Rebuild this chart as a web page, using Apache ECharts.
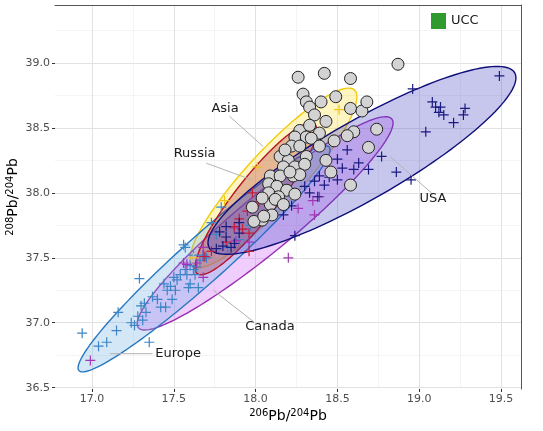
<!DOCTYPE html>
<html><head><meta charset="utf-8">
<script src="https://cdn.jsdelivr.net/npm/echarts@6/dist/echarts.min.js"></script>
<style>html,body{margin:0;padding:0;background:#fff}#c{width:543px;height:431px}</style>
</head><body><div id="c"></div>
<script>
const xTicks = [17.0, 17.5, 18.0, 18.5, 19.0, 19.5];
const yTicks = [36.5, 37.0, 37.5, 38.0, 38.5, 39.0];

const europePts = [[16.94,36.92],[17.04,36.82],[17.09,36.85],[17.15,36.94],[17.16,37.08],[17.24,37.00],[17.26,36.98],[17.35,36.85],[17.29,37.34],[17.31,37.02],[17.33,37.08],[17.32,37.15],[17.37,37.20],[17.40,37.18],[17.42,37.12],[17.45,37.12],[17.49,37.18],[17.48,37.28],[17.52,37.33],[17.51,37.25],[17.54,37.37],[17.58,37.37],[17.59,37.27],[17.65,37.27],[17.63,37.37],[17.57,37.58],[17.57,37.41],[17.62,37.41],[17.64,37.43],[17.66,37.48],[17.68,37.52],[17.70,37.50],[17.28,37.05],[17.30,37.13],[17.44,37.30],[17.46,37.25],[17.50,37.35],[17.60,37.44],[17.79,37.89],[17.73,37.77],[17.56,37.60],[17.90,37.64],[17.83,37.58],[17.76,37.68],[17.97,37.75],[17.62,37.52],[17.60,37.30]];
const canadaPts = [[16.99,36.71],[17.56,37.46],[17.68,37.51],[18.20,37.50],[17.87,37.73],[17.96,37.62],[18.26,37.88],[18.35,37.94],[18.39,37.97],[17.97,37.88],[17.92,37.72],[18.36,37.83],[17.88,37.63],[17.64,37.46],[17.68,37.58],[17.68,37.35],[17.58,37.45]];
const russiaPts = [[17.95,37.86],[17.92,37.72],[17.73,37.55],[17.69,37.51],[17.98,38.00],[17.96,37.69],[17.87,37.74],[17.90,37.80],[18.02,37.93],[17.82,37.62],[17.96,37.55]];
const asiaPts = [[18.51,38.64],[18.01,38.20],[17.81,37.94],[17.62,37.50]];
const usaPts = [[19.49,38.90],[18.96,38.80],[19.08,38.70],[19.10,38.66],[19.13,38.66],[19.12,38.62],[19.15,38.60],[19.28,38.65],[19.27,38.60],[19.21,38.54],[19.04,38.47],[18.86,38.16],[18.95,38.10],[18.56,38.33],[18.77,38.28],[18.50,38.26],[18.63,38.23],[18.53,38.19],[18.60,38.18],[18.69,38.18],[18.39,38.13],[18.45,38.12],[18.50,38.10],[18.42,38.06],[18.38,37.97],[18.33,38.00],[18.24,37.67],[18.17,37.83],[18.22,37.90],[17.82,37.74],[17.90,37.77],[17.80,37.59],[17.85,37.58],[17.90,37.69],[17.82,37.66],[17.76,37.57],[17.87,37.61],[17.78,37.70],[18.05,37.80],[18.10,37.86],[18.30,38.05],[18.36,38.09]];
const samplePts = [[18.26,38.89],[18.42,38.92],[18.58,38.88],[18.87,38.99],[18.29,38.76],[18.31,38.70],[18.33,38.66],[18.40,38.70],[18.49,38.74],[18.36,38.60],[18.58,38.65],[18.65,38.63],[18.68,38.70],[18.43,38.55],[18.74,38.49],[18.60,38.47],[18.56,38.44],[18.48,38.40],[18.69,38.35],[18.39,38.46],[18.27,38.48],[18.24,38.43],[18.31,38.43],[18.22,38.36],[18.27,38.36],[18.34,38.42],[18.39,38.36],[18.43,38.25],[18.46,38.16],[18.58,38.06],[18.15,38.28],[18.20,38.25],[18.31,38.28],[18.17,38.20],[18.24,38.20],[18.30,38.22],[18.09,38.13],[18.15,38.13],[18.23,38.13],[18.27,38.14],[18.08,38.07],[18.13,38.05],[18.19,38.02],[18.24,37.99],[18.08,38.00],[18.14,37.97],[18.09,37.91],[17.98,37.89],[18.04,37.79],[18.10,37.83],[17.99,37.78],[18.05,37.82],[18.18,38.33],[18.33,38.52],[18.21,38.16],[18.12,37.95],[18.04,37.96],[18.17,37.91]];

// ellipses (order: Asia, Canada, Europe, Russia, USA): centre, two conjugate half-axes in data units
const ellipseNames = ['Asia','Canada','Europe','Russia','USA'];
const ellipseCenter = [[18.109,38.115],[18.058,37.765],[17.685,37.492],[18.002,37.954],[18.650,38.250]];
const ellipseAxisA = [[0.510,0.623],[0.782,0.773],[0.770,0.839],[0.358,0.576],[0.941,0.635]];
const ellipseAxisB = [[0,-0.300],[0,-0.277],[0,-0.231],[0.101,-0.099],[0,-0.346]];

const labelNames = ['Asia','Canada','Europe','Russia','USA'];
const labelPos = [[17.813,38.646],[18.088,36.969],[17.526,36.765],[17.627,38.300],[19.084,37.954]];
const leaderStart = [[17.84,38.59],[17.988,37.008],[17.37,36.762],[17.70,38.228],[19.076,37.998]];
const leaderEnd = [[18.047,38.356],[17.742,37.249],[17.11,36.762],[17.976,38.100],[18.822,38.279]];

const strokeCol = {Asia:'#f2cc0c', Canada:'#9a2fb0', Europe:'#2878c0', Russia:'#b5142c', USA:'#0f0f78'};
const fillCol = {Asia:'rgba(255,228,90,0.38)', Canada:'rgba(205,100,245,0.32)', Europe:'rgba(110,175,230,0.3)', Russia:'rgba(170,40,50,0.3)', USA:'rgba(70,70,200,0.3)'};
const crossCol = {Europe:'#3d85c6', Canada:'#a236b5', Russia:'#c41e3a', Asia:'#f1c40f', USA:'#1a1a80'};

const FONT = 'DejaVu Sans';
const crossPath = 'path://M4.4,0 h1.2 v4.4 h4.4 v1.2 h-4.4 v4.4 h-1.2 v-4.4 h-4.4 v-1.2 h4.4 z';

function fmt(v){ return Math.abs(v*2 - Math.round(v*2)) < 1e-6 ? v.toFixed(1) : ''; }

function crossSeries(name, pts){
  return {type:'scatter', name:name+'_pts', data:pts, symbol:crossPath, symbolSize:10,
    itemStyle:{color:crossCol[name], opacity:1}, z:3, silent:true};
}

const chart = echarts.init(document.getElementById('c'), null, {renderer:'canvas'});
const axisCommon = {
  type:'value',
  minInterval:0.5, maxInterval:0.5,
  axisLine:{show:false},
  splitLine:{show:true, lineStyle:{color:'#e2e2e2', width:1}},
  minorTick:{show:false, splitNumber:2},
  minorSplitLine:{show:true, lineStyle:{color:'#efefef', width:0.7}}
};
const nameStyle = {fontSize:14, fontFamily:FONT, color:'#000', rich:{s:{fontSize:10, fontFamily:FONT, color:'#000', verticalAlign:'top', padding:[0,0,7,0]}}};
const option = {
  backgroundColor:'#fff',
  animation:false,
  grid:{left:55, right:22, top:5, bottom:42, show:false, containLabel:false, outerBoundsMode:'none'},
  legend:{data:[{name:'UCC', icon:'rect', itemStyle:{color:'#2f9b2f', opacity:1}}], left:426, top:8, itemWidth:15, itemHeight:16, itemGap:4,
    textStyle:{fontSize:13, fontFamily:FONT, color:'#1a1a1a'}},
  xAxis:[Object.assign({}, axisCommon, {
      min:16.774, max:19.622, position:'bottom',
      axisTick:{show:true, length:3, customValues:xTicks, lineStyle:{color:'#333'}},
      axisLabel:{color:'#4d4d4d', fontSize:11, fontFamily:FONT, formatter:fmt, customValues:xTicks, margin:5},
      name:'{s|206}Pb/{s|204}Pb', nameLocation:'middle', nameGap:19, nameMoveOverlap:false, nameTextStyle:nameStyle
    }),
    {type:'value', min:16.774, max:19.622, position:'top', axisLine:{show:true, lineStyle:{color:'#555', width:1}}, axisTick:{show:false}, axisLabel:{show:false}, splitLine:{show:false}}
  ],
  yAxis:[Object.assign({}, axisCommon, {
      min:36.49, max:39.446, position:'left',
      axisTick:{show:true, length:3, customValues:yTicks, lineStyle:{color:'#333'}},
      axisLabel:{color:'#4d4d4d', fontSize:11, fontFamily:FONT, formatter:fmt, customValues:yTicks, margin:5},
      name:'{s|208}Pb/{s|204}Pb', nameLocation:'middle', nameGap:33, nameMoveOverlap:false, nameRotate:90, nameTextStyle:nameStyle
    }),
    {type:'value', min:36.49, max:39.446, position:'right', axisLine:{show:true, lineStyle:{color:'#555', width:1}}, axisTick:{show:false}, axisLabel:{show:false}, splitLine:{show:false}}
  ],
  series:[
    {type:'scatter', name:'UCC', data:[], itemStyle:{color:'#2f9b2f', opacity:1}},
    {type:'custom', name:'ellipses', z:2, clip:true, silent:true,
      data: ellipseNames.map((n,i)=>[ellipseCenter[i][0], ellipseCenter[i][1], i]),
      encode:{x:0, y:1},
      renderItem:function(params, api){
        const i = api.value(2);
        const n = ellipseNames[i], c = ellipseCenter[i], a = ellipseAxisA[i], b = ellipseAxisB[i];
        const pts = [];
        for (let k=0;k<144;k++){
          const t = 2*Math.PI*k/144;
          pts.push(api.coord([c[0]+Math.cos(t)*a[0]+Math.sin(t)*b[0], c[1]+Math.cos(t)*a[1]+Math.sin(t)*b[1]]));
        }
        return {type:'polygon', shape:{points:pts}, style:{fill:fillCol[n], stroke:strokeCol[n], lineWidth:1.4}};
      }
    },
    crossSeries('Europe', europePts),
    crossSeries('Canada', canadaPts),
    crossSeries('Russia', russiaPts),
    crossSeries('Asia', asiaPts),
    crossSeries('USA', usaPts),
    {type:'scatter', name:'samples', data:samplePts, symbol:'circle', symbolSize:12, z:5, silent:true,
      itemStyle:{color:'#d3d3d3', borderColor:'#222', borderWidth:1, opacity:1}},
    {type:'custom', name:'labels', z:6, silent:true,
      data: labelNames.map((n,i)=>[labelPos[i][0], labelPos[i][1], i]),
      encode:{x:0, y:1},
      renderItem:function(params, api){
        const i = api.value(2);
        const p = api.coord(labelPos[i]), s = api.coord(leaderStart[i]), e = api.coord(leaderEnd[i]);
        return {type:'group', children:[
          {type:'line', shape:{x1:s[0], y1:s[1], x2:e[0], y2:e[1]}, style:{stroke:'#b3b3b3', lineWidth:1}},
          {type:'text', x:p[0], y:p[1], style:{text:labelNames[i], fill:'#1a1a1a', font:'13px "DejaVu Sans"', align:'center', verticalAlign:'middle'}}
        ]};
      }
    }
  ]
};
chart.setOption(option);
</script></body></html>
